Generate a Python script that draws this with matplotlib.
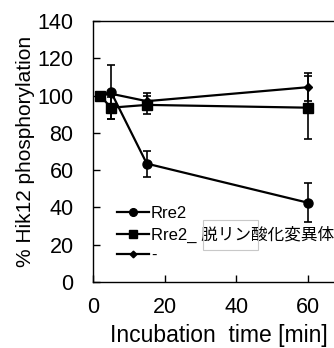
import numpy as np
import matplotlib.pyplot as plt
from matplotlib.patches import Rectangle

plt.rcParams['font.family'] = ['Liberation Sans', 'Noto Sans CJK JP', 'DejaVu Sans']

# time points [min]
time = [2, 5, 15, 60]

# Rre2
rre2 = [100, 102, 63.5, 42.5]
rre2_err = [0, 14.5, 7, 10.5]

# Rre2_ dephospho mutant
mut = [100, 93.5, 95, 93.5]
mut_err = [0, 6, 5, 17]

# no RR
ctrl = [100, 101, 97, 104.5]
ctrl_err = [0, 0, 4.5, 7.5]

labels = ['Rre2', 'Rre2_ 脱リン酸化変異体', '-']

fig = plt.figure(figsize=(3.34, 3.48), dpi=100)
ax = fig.add_axes([93/334, 1-282/348, 251/334, 261/348])

series = [(rre2, rre2_err, 'o', 6.5), (mut, mut_err, 's', 6.5), (ctrl, ctrl_err, 'D', 4)]
for (y, e, m, ms), lab in zip(series, labels):
    ax.errorbar(time, y, yerr=e, fmt='none', ecolor='black',
                elinewidth=1.2, capsize=2.8, capthick=1.2)
    ax.plot(time, y, color='black', marker=m, ms=ms, lw=1.6, label=lab)

ax.set_xlim(0, 70)
ax.set_ylim(0, 140)
ax.set_xticks([0, 20, 40, 60])
ax.set_yticks(np.arange(0, 141, 20))
ax.tick_params(direction='in', length=5, width=1, labelsize=15.5)
ax.tick_params(axis='x', pad=11)
ax.tick_params(axis='y', pad=14)
for s in ax.spines.values():
    s.set_linewidth(1)

ax.set_xlabel('Incubation  time [min]', fontsize=16.5, labelpad=4)
ax.set_ylabel('% Hik12 phosphorylation', fontsize=15, labelpad=2)

leg = ax.legend(loc='lower left', bbox_to_anchor=(0.095, 0.072), frameon=False,
                fontsize=12, handlelength=1.9, handletextpad=0.15,
                labelspacing=0.3, borderaxespad=0, borderpad=0,
                markerscale=0.85)

# leftover text-box outline from the original figure
fig.patches.append(Rectangle((203/334, 1-250/348), 55/334, 30/348,
                             transform=fig.transFigure, fill=False,
                             ec='#c8c8c8', lw=0.8))

fig.savefig('out.png', dpi=100)
